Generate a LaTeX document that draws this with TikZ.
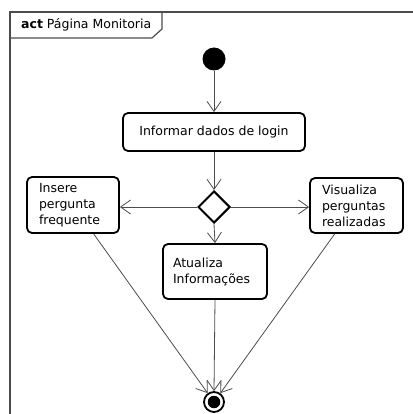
\documentclass[tikz,border=0pt]{standalone}
\usepackage{fontspec}
\setmainfont{DejaVu Sans}
\usetikzlibrary{shapes.geometric,arrows.meta,calc}
\begin{document}
\begin{tikzpicture}[x=1pt,y=-1pt,
  font=\fontsize{12.5}{16}\selectfont,
  actbox/.style={draw=black, line width=1.8pt, rounded corners=5pt, fill=white, inner ysep=0pt},
  flow/.style={draw=black!70, line width=0.8pt, -{Straight Barb[length=10pt,width=14pt,line width=0.8pt]}},
  framel/.style={draw=black!70, line width=1.2pt}]
\useasboundingbox (0,0) rectangle (412,414);
% frame
\draw[framel] (10,416) -- (10,12) -- (414,12);
\draw[framel] (10,38) -- (152,38) -- (162,29) -- (162,12);
\node[anchor=west, inner sep=0pt, font=\fontsize{12.5}{14}\selectfont] (title) at (21,25) {\textbf{act} Página Monitoria};
% nodes
\node[circle, fill=black, minimum size=23pt, inner sep=0pt] (start) at (214,59) {};
\node[actbox, minimum width=182pt, minimum height=38pt] (login) at (214,132) {Informar dados de login};
\node[diamond, draw=black, line width=2pt, fill=white, minimum width=32pt, minimum height=32pt, inner sep=0pt] (dec) at (214,207) {};
\node[actbox, text width=68pt, inner xsep=12pt, align=left, minimum height=56pt] (insere) at (73,205) {Insere\\pergunta\\frequente};
\node[actbox, text width=69pt, inner xsep=12pt, align=left, minimum height=55pt] (visual) at (356.5,205.5) {Visualiza\\perguntas\\realizadas};
\node[actbox, text width=84pt, inner xsep=10pt, align=left, minimum height=55pt] (atual) at (215,271.5) {Atualiza\\Informações};
\node[circle, draw=black, line width=1.8pt, fill=white, minimum size=20pt, inner sep=0pt] (end) at (214,402) {};
\node[circle, fill=black, minimum size=12.5pt, inner sep=0pt] (endin) at (end.center) {};
% connectors
\draw[flow] (start) -- (login);
\draw[flow] (login) -- (dec);
\draw[flow] (dec.west) -- (dec.west -| insere.east);
\draw[flow] (dec.east) -- (dec.east -| visual.west);
\draw[flow] (dec.south) -- (atual.north);
\draw[flow] (atual.south) -- (end.north);
\coordinate (insb) at ($(insere.south west)!0.72!(insere.south east)$);
\coordinate (visb) at ($(visual.south west)!0.27!(visual.south east)$);
\draw[flow] (insb) -- (end);
\draw[flow] (visb) -- (end);
\end{tikzpicture}
\end{document}
